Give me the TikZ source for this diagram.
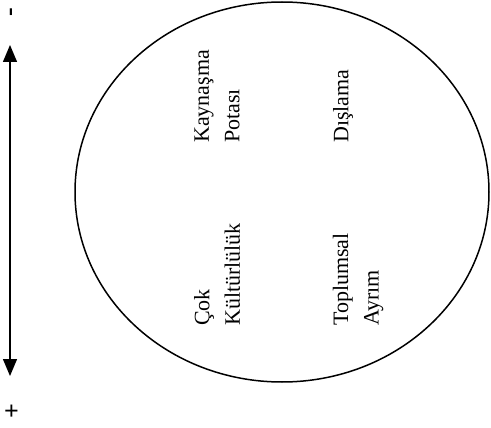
\documentclass[tikz,border=0pt]{standalone}
\usepackage{fontspec}
\setmainfont{Liberation Serif}
\usetikzlibrary{arrows.meta,shapes.geometric}
\begin{document}
\begin{tikzpicture}[x=1pt,y=-1pt,
  lbl/.style={rotate=90,anchor=west,inner sep=0pt,align=left,
    font=\fontsize{22}{30.5}\selectfont},
  sgn/.style={rotate=90,inner sep=0pt,font=\fontsize{26}{28}\selectfont\bfseries}]
\useasboundingbox (0,0) rectangle (491,428);
\node[draw,line width=1.5pt,ellipse,minimum width=414pt,minimum height=380pt,inner sep=0pt] (ell) at (282,192) {};
\node[lbl] (kp) at (217,143) {Kaynaşma\\Potası};
\node[lbl] (dl) at (343,143) {Dışlama};
\node[lbl] (ck) at (217,326) {Çok\\Kültürlülük};
\node[lbl] (ta) at (358,326) {Toplumsal\\Ayrım};
\node[sgn] (minus) at (14,12) {-};
\node[sgn] (plus) at (13,411) {+};
\coordinate (atop) at (10,45);
\coordinate (abot) at (10,376);
\draw[line width=1.3pt,{Triangle[width=14pt,length=17pt]}-{Triangle[width=14pt,length=17pt]}] (atop) -- (abot);
\end{tikzpicture}
\end{document}
